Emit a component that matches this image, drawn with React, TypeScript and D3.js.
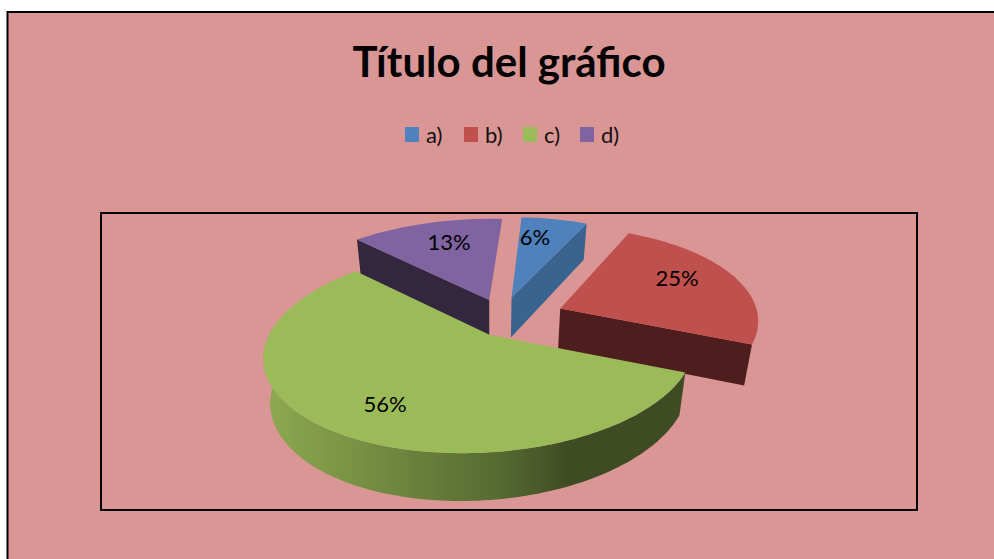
import React from "react";
import * as d3 from "d3";

const categories = ["a)", "b)", "c)", "d)"];
const values = [6, 25, 56, 13];
const topColors = ["#4f81bd", "#c0504d", "#9bbb59", "#8064a2"];
const cutColors = ["#3a6490", "#4e1d1d", "", "#33263f"];
const explodeU = [0.08, 0.33, 0, -0.03];
const explodeV = [-0.4, -0.28, 0, -0.37];
const radiusScale = [1.04, 1.03, 1, 1.04];

const W = 994, H = 559;
const cx = 490, cy = 335;
const project = (u: number, v: number) => {
  const den = 1 + 0.04 * u - 0.153 * v;
  return { x: cx + (212 * u - 15 * v) / den, y: cy + (100 * v) / den, den };
};
const lower = (p: { x: number; y: number; den: number }) => ({
  x: p.x + (cx - p.x) * 0.03,
  y: p.y + 10 + 32 / p.den,
});
const pct = d3.format(".0%");
const total = d3.sum(values);
const pie = d3.pie<number>().sort(null)(values);

export default function App() {
  const slices = pie.map((s, i) => {
    const r = radiusScale[i];
    const pt = (t: number) => project(explodeU[i] + r * Math.sin(t), explodeV[i] - r * Math.cos(t));
    const tip = project(explodeU[i], explodeV[i]);
    const n = Math.max(8, Math.round((s.endAngle - s.startAngle) * 40));
    const ts = d3.range(n + 1).map((k) => s.startAngle + ((s.endAngle - s.startAngle) * k) / n);
    const arc = ts.map(pt);
    const top = [tip, ...arc];
    const line = d3.line<{ x: number; y: number }>().x((d) => d.x).y((d) => d.y);
    const closed = (pts: { x: number; y: number }[]) => line(pts) + "Z";
    return { i, tip, arc, top, closed, lineFor: closed };
  });

  const faceOf = (i: number, end: "start" | "end") => {
    const s = slices[i];
    const e = end === "start" ? s.arc[0] : s.arc[s.arc.length - 1];
    return s.closed([s.tip, e, lower(e), lower(s.tip)]);
  };
  const wallOf = (i: number) => {
    const s = slices[i];
    const front = s.arc.filter((_, k) => k >= 0);
    // keep only the part of the rim that faces the viewer
    const vis = front.filter((p, k) => {
      const t = pie[i].startAngle + ((pie[i].endAngle - pie[i].startAngle) * k) / (front.length - 1);
      return -Math.cos(t) > -0.09;
    });
    return s.closed([...vis, ...vis.slice().reverse().map(lower)]);
  };

  const order = [3, 0, 1, 2];
  const labelPos = [
    [535, 245],
    [677, 286],
    [385, 412],
    [449, 250],
  ];
  const legendX = [405, 464, 523, 580];

  return (
    <svg
      width={W}
      height={H}
      viewBox={`0 0 ${W} ${H}`}
      style={{ position: "fixed", left: 0, top: 0, background: "#fff", fontFamily: "Lato, Carlito, sans-serif" }}
    >
      <defs>
        <linearGradient id="wallC" gradientUnits="userSpaceOnUse" x1={272} x2={686} y1={0} y2={0}>
          <stop offset="0" stopColor="#8ca84f" />
          <stop offset="0.28" stopColor="#708840" />
          <stop offset="0.55" stopColor="#566a31" />
          <stop offset="0.72" stopColor="#3f4b23" />
          <stop offset="1" stopColor="#3f4b23" />
        </linearGradient>
      </defs>
      <rect x={7.5} y={12} width={W} height={H} fill="#da9694" stroke="#000" strokeWidth={2} />
      <text x={509} y={77} textAnchor="middle" fontSize={42} fontWeight={700} fill="#000">
        Título del gráfico
      </text>
      {categories.map((c, i) => (
        <g key={c}>
          <rect x={legendX[i]} y={127} width={14} height={15} fill={topColors[i]} />
          <text x={legendX[i] + 21} y={143} fontSize={22} fill="#111">
            {c}
          </text>
        </g>
      ))}
      <rect x={101} y={213} width={816} height={297} fill="none" stroke="#000" strokeWidth={2} />
      {order.map((i) => (
        <g key={i}>
          {i === 0 && <path d={faceOf(0, "end")} fill={cutColors[0]} />}
          {i === 1 && <path d={faceOf(1, "end")} fill={cutColors[1]} />}
          {i === 2 && <path d={wallOf(2)} fill="url(#wallC)" />}
          {i === 3 && <path d={faceOf(3, "start")} fill={cutColors[3]} />}
          <path d={slices[i].closed(slices[i].top)} fill={topColors[i]} />
        </g>
      ))}
      {values.map((v, i) => (
        <text key={i} x={labelPos[i][0]} y={labelPos[i][1]} textAnchor="middle" fontSize={22} fill="#000">
          {pct(v / total)}
        </text>
      ))}
    </svg>
  );
}
